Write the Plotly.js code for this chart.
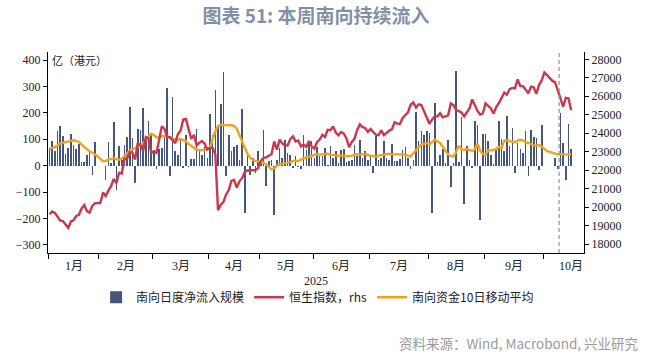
<!DOCTYPE html>
<html><head><meta charset="utf-8">
<script src="https://cdn.plot.ly/plotly-3.0.1.min.js"></script>
<style>html,body{margin:0;padding:0;background:#fff;}#chart{width:661px;height:355px;}</style>
</head><body><div id="chart"></div>
<script>
// HK trading days (Jan 2 - Oct 17, 2025)
const holidays = ['2025-01-01','2025-01-29','2025-01-30','2025-01-31','2025-04-04','2025-04-18','2025-04-21','2025-05-01','2025-05-05','2025-07-01','2025-10-01','2025-10-07'];
const startDate = '2025-01-02';
const endDate = '2025-10-17';
const monthLabels = ['1月','2月','3月','4月','5月','6月','7月','8月','9月','10月'];
const yearLabel = '2025';
const weekStart = '2025-10-13';

// 南向日度净流入规模 (亿港元), null = 南向停止交易
const southbound = [
 67, 93, 54, 130, 149, 113, 46, 67, 121, 80, 65, 82, 13, 14, 42, 52, -34, 91, null,
 null, null, -53, 91, 9, 167, -91, 76, 20, 78, 107, 223, 104, -64, 139, 137, 220, 97, 169, 116,
 60, -12, 65, 66, 110, 295, -40, 260, 56, 42, 97, -9, 116, -3, 25, 27, 138, 60, 42, 72, 30,
 197, 116, 287, 154, 235, 355, -40, 116, 56, 72, 79, 22, 214, -178, 35, -34, 29, -28, 56,
 18, 135, -78, 16, 22, -185, 22, 66, 30, 97, 47, 41, -9, 37, -5, -12, 118, 60, 85, 95,
 30, 72, 35, 35, 66, 4, 76, 30, 54, 12, 60, 63, 15, 18, 22, 79, 35, 96, 30, 54, 20,
 35, -28, 112, 20, 30, 92, 29, 23, 82, 16, 18, 25, 60, 71, 29, -12, 20, 205, 92, 130, 117, 133,
 124, -180, 237, 15, 40, 63, 10, 96, -80, 12, 360, 15, 186, -146, 75, 20, -9, 168, 155, -204, 121,
 121, 92, 42, 8, 60, 168, 102, 55, 189, 76, 143, -28, 86, 63, 50, 130, -40, 135, 108, 104, -15, 155,
 null, null, null, null, 29, -12, 199, 86, -53, 158, 63
];

// 恒生指数 (rhs)
const hsi = [
 19623, 19760, 19688, 19447, 19280, 19241, 19064, 18874, 19219, 19286, 19522, 19584, 19926, 20107, 19778, 19701, 20066, 20198, 20225,
 20217, 20789, 20597, 20891, 21133, 21521, 21294, 21858, 21815, 22620, 22616, 22976, 22944, 22577, 23478, 23341, 23034, 23787, 23718, 22941,
 23006, 22941, 23594, 24370, 24231, 23783, 23782, 23600, 23462, 23959, 24145, 24740, 24771, 24219, 23689, 23906, 23344, 23483, 23579, 23426, 23120,
 23206, 23202, 22849, 19828, 20128, 20264, 20681, 20915, 21417, 21467, 21057, 21395, 21562, 21909, 21981, 21980, 21972, 22008, 22119,
 22505, 22663, 22692, 22775, 22868, 23550, 23108, 23640, 23453, 23345, 23333, 23681, 23827, 23544, 23601, 23282, 23382, 23258, 23574, 23290,
 23158, 23512, 23654, 23907, 23792, 24181, 24162, 24367, 24035, 23892, 24060, 23980, 23711, 23237, 23530, 23689, 24177, 24474, 24325, 24284, 24072,
 24221, 24069, 23916, 23888, 24148, 23892, 24028, 24140, 24203, 24590, 24518, 24499, 24825, 24994, 25130, 25538, 25667, 25388, 25562, 25524, 25177, 24773,
 24507, 24733, 24902, 24910, 25081, 24858, 24907, 24969, 25613, 25519, 25270, 25177, 25122, 24914, 25105, 25339, 25829, 25525, 25201, 24998, 25077,
 25617, 25497, 25343, 25058, 25418, 25633, 25938, 26200, 26086, 26388, 26446, 26438, 26908, 26545, 26545, 26344, 26159, 26519, 26485, 26128, 26622, 26856,
 27287, 27141, 26957, 26829, 26753, 26290, 25889, 25441, 25910, 25888, 25247
];

// 南向资金10日移动平均
const ma10 = [
 63, 67, 70, 76, 85, 87, 88, 91, 93, 96, 94, 90, 80, 70, 62, 54, 50, 44, 35,
 26, 17, 18, 24, 26, 29, 25, 23, 27, 34, 45, 58, 62, 66, 71, 76, 86, 98, 114, 122,
 116, 107, 108, 110, 113, 111, 108, 102, 100, 98, 101, 98, 93, 82, 74, 67, 61, 58, 59, 61, 63,
 70, 100, 132, 150, 155, 154, 154, 155, 153, 150, 140, 115, 90, 70, 45, 30, 22, 18, 16,
 15, 11, 5, -5, -14, -10, 0, 5, 7, 8, 10, 14, 18, 17, 18, 23, 28, 32, 34, 36,
 42, 44, 42, 43, 44, 45, 42, 40, 38, 38, 39, 38, 36, 36, 38, 42, 44, 42, 44, 45, 40,
 39, 37, 35, 38, 40, 42, 43, 45, 44, 43, 42, 43, 44, 42, 38, 35, 48, 58, 70, 79, 84, 86,
 80, 88, 98, 92, 86, 72, 56, 43, 36, 35, 52, 76, 62, 60, 63, 60, 56, 62, 84, 56, 44,
 42, 58, 58, 60, 63, 71, 67, 95, 96, 93, 91, 88, 96, 98, 96, 89, 86, 80, 77, 76, 78, 72,
 62, 55, 52, 48, 45, 43, 43, 44, 42, 42, 44
];

function tradingDays(){
  const out = [];
  const d = new Date(startDate + 'T00:00:00Z');
  const end = new Date(endDate + 'T00:00:00Z');
  while (d <= end) {
    const s = d.toISOString().slice(0,10);
    const wd = d.getUTCDay();
    if (wd !== 0 && wd !== 6 && holidays.indexOf(s) < 0) out.push(s);
    d.setUTCDate(d.getUTCDate() + 1);
  }
  return out;
}
const dates = tradingDays();
const xs = dates.map((_, i) => i);

// month boundaries
const monthStarts = [];
dates.forEach((d, i) => { if (i === 0 || d.slice(5,7) !== dates[i-1].slice(5,7)) monthStarts.push(i); });
const tickvals = monthStarts.map(s => s - 0.5);
const labelPos = monthStarts.map((s, k) => k < monthStarts.length - 1 ? (s + monthStarts[k+1]) / 2 - 0.5 : s - 0.5 + 10.5);

const serif = 'Liberation Serif, Noto Sans CJK SC, serif';
const cjk = 'Noto Sans CJK SC, sans-serif';

const annotations = monthLabels.map((t, k) => ({
  text: t, x: labelPos[k], xref: 'x', y: -0.065, yref: 'paper',
  showarrow: false, xanchor: 'center', yanchor: 'middle',
  font: {family: serif, size: 12, color: '#222'}
}));
annotations.push({text: yearLabel, x: 0.5, xref: 'paper', y: -0.14, yref: 'paper', showarrow: false,
  xanchor: 'center', yanchor: 'middle', font: {family: serif, size: 12, color: '#222'}});
annotations.push({text: '亿（港元）', x: 0.004, xref: 'paper', y: 0.962, yref: 'paper', showarrow: false,
  xanchor: 'left', yanchor: 'middle', font: {family: cjk, size: 11, color: '#222'}});
annotations.push({text: '资料来源：Wind, Macrobond, 兴业研究', x: 1.104, xref: 'paper', y: -0.45, yref: 'paper', showarrow: false,
  xanchor: 'right', yanchor: 'middle', font: {family: cjk, size: 13.5, color: '#9a9a9a'}});

const weekX = dates.indexOf(weekStart) - 0.5;

const traces = [
  {type: 'bar', x: xs, y: southbound, name: '南向日度净流入规模', marker: {color: '#46567A'}, width: 0.6, yaxis: 'y'},
  {type: 'scatter', mode: 'lines', x: xs, y: hsi, name: '恒生指数，rhs', line: {color: '#C9384C', width: 2.4}, yaxis: 'y2'},
  {type: 'scatter', mode: 'lines', x: xs, y: ma10, name: '南向资金10日移动平均', line: {color: '#F0A31C', width: 2.4}, yaxis: 'y', connectgaps: true}
];

const layout = {
  width: 661, height: 355,
  margin: {l: 48, r: 77, t: 52, b: 102},
  paper_bgcolor: '#fff', plot_bgcolor: '#fff',
  title: {text: '<b>图表 51: 本周南向持续流入</b>', x: 0.5, xref: 'paper', xanchor: 'center', y: 0.955, yanchor: 'middle',
    font: {family: cjk, size: 19, color: '#8290A5'}},
  showlegend: true,
  legend: {orientation: 'h', x: 0.503, xanchor: 'center', y: -0.22, yanchor: 'middle',
    font: {family: cjk, size: 12, color: '#222'}, itemwidth: 30, tracegroupgap: 0},
  bargap: 0,
  xaxis: {range: [-0.56, 199.8], tickvals: tickvals, ticktext: tickvals.map(() => ''), ticks: 'outside', ticklen: 5,
    tickcolor: '#000', showline: true, linecolor: '#000', linewidth: 1, showgrid: false, zeroline: false, fixedrange: true},
  yaxis: {range: [-330.3, 430.3], tickvals: [-300,-200,-100,0,100,200,300,400], ticks: 'outside', ticklen: 4, tickcolor: '#000',
    showline: true, linecolor: '#000', linewidth: 1, showgrid: false, zeroline: false,
    tickfont: {family: serif, size: 12, color: '#222'}},
  yaxis2: {overlaying: 'y', side: 'right', range: [17513, 28395], tickformat: 'd',
    tickvals: [18000,19000,20000,21000,22000,23000,24000,25000,26000,27000,28000], ticks: 'outside', ticklen: 4, tickcolor: '#000',
    showline: true, linecolor: '#000', linewidth: 1, showgrid: false, zeroline: false,
    tickfont: {family: serif, size: 12, color: '#222'}},
  shapes: [{type: 'line', xref: 'x', yref: 'paper', x0: weekX, x1: weekX, y0: 0, y1: 1,
    line: {color: '#9a9a9a', width: 1.3, dash: '4px,3px'}}],
  annotations: annotations
};

Plotly.newPlot('chart', traces, layout, {displayModeBar: false, staticPlot: true});
</script>
</body></html>
